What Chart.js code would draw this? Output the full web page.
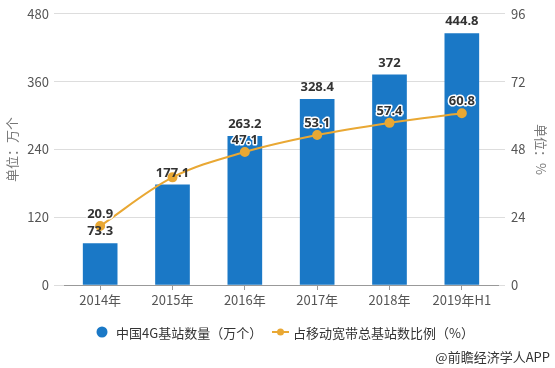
<!DOCTYPE html>
<html>
<head>
<meta charset="utf-8">
<script src="https://cdn.jsdelivr.net/npm/chart.js@4.4.1/dist/chart.umd.min.js"></script>
<style>
  html, body { margin: 0; padding: 0; background: #fff; }
  canvas { display: block; }
</style>
</head>
<body>
<canvas id="chart" width="555" height="368"></canvas>
<script>
// Data.
const years = ['2014年', '2015年', '2016年', '2017年', '2018年', '2019年H1']
const stations = [73.3, 177.1, 263.2, 328.4, 372, 444.8]
const ratio = [20.9, 38.1, 47.1, 53.1, 57.4, 60.8]
// 2015 ratio label is hidden under the bar label in the original
const ratioLabels = ['20.9', null, '47.1', '53.1', '57.4', '60.8']
const leftTicks = [0, 120, 240, 360, 480]
const rightTicks = [0, 24, 48, 72, 96]

const blue = '#1a78c6'
const gold = '#e9a834'
const cjk = '"Noto Sans CJK SC", "Noto Sans", sans-serif'

// value labels, legend and source note
const labelPlugin = {
  id: 'labels',
  afterDatasetsDraw(chart) {
    const c = chart.ctx
    c.save()
    c.textAlign = 'center'
    c.textBaseline = 'middle'
    c.font = 'bold 13px "Noto Sans", sans-serif'
    chart.getDatasetMeta(0).data.forEach((bar, i) => {
      c.fillStyle = '#333'
      c.fillText(String(stations[i]), bar.x, bar.y - 12)
    })
    chart.getDatasetMeta(1).data.forEach((pt, i) => {
      if (!ratioLabels[i]) return
      c.lineWidth = 3
      c.strokeStyle = '#fff'
      c.lineJoin = 'round'
      c.strokeText(ratioLabels[i], pt.x, pt.y - 12)
      c.fillStyle = '#333'
      c.fillText(ratioLabels[i], pt.x, pt.y - 12)
    })
    c.restore()
  },
  afterDraw(chart) {
    const c = chart.ctx
    c.save()
    c.textBaseline = 'middle'
    c.font = '13px ' + cjk
    // legend
    c.fillStyle = blue
    c.beginPath()
    c.arc(102, 332, 5.5, 0, Math.PI * 2)
    c.fill()
    c.fillStyle = '#333'
    c.fillText(chart.data.datasets[0].label, 116, 333)
    c.strokeStyle = gold
    c.lineWidth = 2
    c.beginPath()
    c.moveTo(272, 332)
    c.lineTo(289, 332)
    c.stroke()
    c.fillStyle = gold
    c.beginPath()
    c.arc(280.5, 332, 3.5, 0, Math.PI * 2)
    c.fill()
    c.fillStyle = '#333'
    c.fillText(chart.data.datasets[1].label, 293, 333)
    // source
    c.textAlign = 'right'
    c.fillText('@前瞻经济学人APP', 550, 357)
    c.restore()
  }
}

const myChart = new Chart(document.getElementById('chart'), {
  type: 'bar',
  data: {
    labels: years,
    datasets: [{
      label: '中国4G基站数量（万个）',
      data: stations,
      backgroundColor: blue,
      barThickness: 34,
      yAxisID: 'y',
      order: 2
    }, {
      type: 'line',
      label: '占移动宽带总基站数比例（%）',
      data: ratio,
      borderColor: gold,
      backgroundColor: gold,
      borderWidth: 2,
      pointRadius: 4,
      pointHoverRadius: 4,
      tension: 0.35,
      yAxisID: 'y2',
      order: 1
    }]
  },
  options: {
    responsive: false,
    animation: false,
    devicePixelRatio: 1,
    layout: { padding: { top: 13, bottom: 0, left: 0, right: 0 } },
    plugins: {
      legend: { display: false },
      tooltip: { enabled: false }
    },
    scales: {
      x: {
        grid: { drawOnChartArea: false, offset: false, tickLength: 5, color: '#999' },
        border: { color: '#999' },
        ticks: { color: '#555', font: { size: 13, family: cjk }, padding: 2 },
        afterFit: s => { s.height = 83 }
      },
      y: {
        position: 'left',
        min: 0,
        max: 480,
        afterBuildTicks: s => { s.ticks = leftTicks.map(v => ({ value: v })) },
        grid: { color: '#ddd', tickLength: 10 },
        border: { display: false },
        ticks: { color: '#555', font: { size: 13, family: cjk }, padding: 5 },
        title: { display: true, text: '单位：万个', color: '#777', font: { size: 13, family: cjk }, padding: { top: 4, bottom: 0 } },
        afterFit: s => { s.width = 64 }
      },
      y2: {
        position: 'right',
        min: 0,
        max: 96,
        afterBuildTicks: s => { s.ticks = rightTicks.map(v => ({ value: v })) },
        grid: { drawOnChartArea: false, color: '#ddd', tickLength: 7 },
        border: { display: false },
        ticks: { color: '#555', font: { size: 13, family: cjk }, padding: 6 },
        title: { display: true, text: '单位：%', color: '#777', font: { size: 13, family: cjk }, padding: { top: 6, bottom: 0 } },
        afterFit: s => { s.width = 57 }
      }
    }
  },
  plugins: [labelPlugin]
})
</script>
</body>
</html>
